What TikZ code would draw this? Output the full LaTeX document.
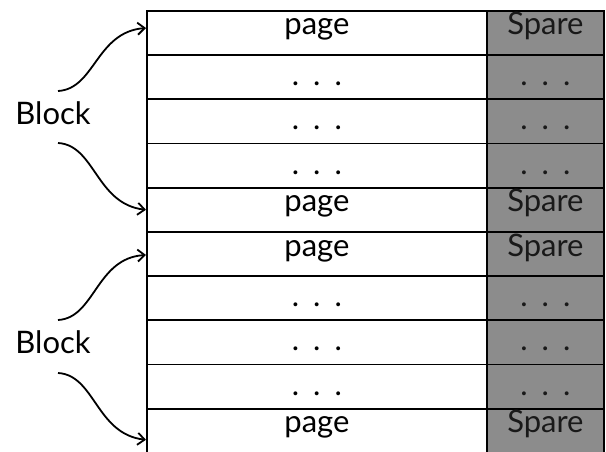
\documentclass[tikz,border=0pt]{standalone}
\usepackage{fontspec}
\setmainfont{Lato}
\usetikzlibrary{arrows.meta}
\newcommand\tdots{.\hspace{14pt}.\hspace{14pt}.}
\begin{document}
\begin{tikzpicture}[x=1pt,y=-1pt,
  cell/.style={draw=black, line width=1.8pt, minimum width=340pt, minimum height=44.2pt,
    inner sep=0pt, anchor=north west, font=\fontsize{31}{31}\selectfont},
  spare/.style={cell, minimum width=117pt, fill=black!45, text=black!90},
  pagetxt/.style={text height=12pt, text depth=8pt},
  dotstxt/.style={text height=20pt, text depth=3pt},
  conn/.style={line width=1.8pt, -{Straight Barb[length=7pt,width=12pt]}},
  lbl/.style={font=\fontsize{31}{31}\selectfont}
]
\useasboundingbox (0,0) rectangle (606,452);
\foreach \i/\k/\t/\s in {1/pagetxt/page/Spare, 2/dotstxt/\tdots/\tdots, 3/dotstxt/\tdots/\tdots,
  4/dotstxt/\tdots/\tdots, 5/pagetxt/page/Spare, 6/pagetxt/page/Spare,
  7/dotstxt/\tdots/\tdots, 8/dotstxt/\tdots/\tdots, 9/dotstxt/\tdots/\tdots, 10/pagetxt/page/Spare}{
  \node[cell,\k] (w\i) at (146,{10+44.2*(\i-1)}) {\t};
  \node[spare,\k] (s\i) at (486,{10+44.2*(\i-1)}) {\s};
}
\node[lbl] (b1) at (53,113) {Block};
\node[lbl] (b2) at (53,342) {Block};
\coordinate (b1u) at (58,91);
\coordinate (b1d) at (58,143);
\coordinate (b2u) at (58,320);
\coordinate (b2d) at (58,373);
\draw[conn] (b1u) .. controls (95,89) and (96,32) .. ([yshift=5pt]w1.west);
\draw[conn] (b1d) .. controls (95,145) and (96,204) .. (w5.west);
\draw[conn] (b2u) .. controls (95,318) and (96,258) .. ([yshift=-1pt]w6.west);
\draw[conn] (b2d) .. controls (95,375) and (96,434) .. ([yshift=-9pt]w10.west);
\end{tikzpicture}
\end{document}
